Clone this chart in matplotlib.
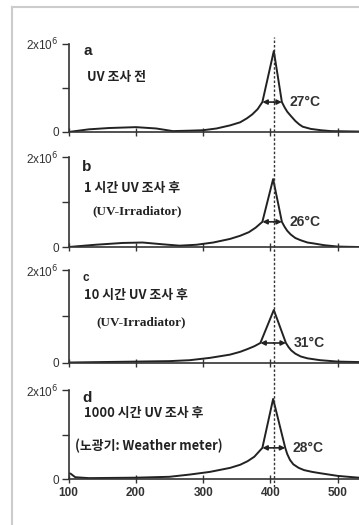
import matplotlib
matplotlib.use("Agg")
import matplotlib.pyplot as plt
from matplotlib.lines import Line2D
import matplotlib.transforms as mtransforms

# 데이터 (세로축 단위: 1e6)
x_a = [100, 130, 160, 200, 230, 255, 280, 300, 320, 340, 355, 365, 373, 381, 388, 405, 417, 421, 425, 430, 437, 443, 448, 460, 475, 490, 531]
y_a = [0.0, 0.06, 0.09, 0.11, 0.08, 0.02, 0.03, 0.04, 0.08, 0.15, 0.22, 0.31, 0.40, 0.52, 0.68, 1.84, 0.68, 0.56, 0.46, 0.37, 0.25, 0.17, 0.12, 0.07, 0.04, 0.02, 0.01]

x_b = [100, 140, 180, 210, 240, 265, 290, 315, 340, 355, 368, 378, 388, 404, 417, 421, 425, 430, 437, 445, 455, 464, 480, 500, 531]
y_b = [0.0, 0.05, 0.09, 0.10, 0.06, 0.03, 0.05, 0.10, 0.18, 0.25, 0.33, 0.43, 0.56, 1.51, 0.56, 0.45, 0.36, 0.28, 0.20, 0.15, 0.10, 0.08, 0.04, 0.01, 0.0]

x_c = [100, 150, 200, 250, 280, 310, 340, 355, 366, 376, 385, 405, 423, 427, 431, 437, 445, 455, 474, 500, 531]
y_c = [0.01, 0.02, 0.03, 0.04, 0.06, 0.11, 0.18, 0.24, 0.30, 0.36, 0.43, 1.14, 0.43, 0.34, 0.27, 0.20, 0.14, 0.10, 0.06, 0.03, 0.02]

x_d = [100, 103, 110, 130, 200, 250, 280, 310, 340, 355, 366, 376, 388, 404, 422, 425, 429, 434, 442, 450, 462, 474, 500, 523, 531]
y_d = [0.13, 0.12, 0.04, 0.02, 0.03, 0.05, 0.10, 0.16, 0.25, 0.32, 0.40, 0.50, 0.70, 1.80, 0.70, 0.56, 0.43, 0.33, 0.25, 0.20, 0.16, 0.13, 0.07, 0.04, 0.03]

letters = ["a", "b", "c", "d"]
titles = ["UV 조사 전", "1 시간 UV 조사 후", "10 시간 UV 조사 후", "1000 시간 UV 조사 후"]
subtitles = ["", "(UV-Irradiator)", "(UV-Irradiator)", "(노광기: Weather meter)"]
widths = ["27°C", "26°C", "31°C", "28°C"]
fwhm_left = [388, 388, 385, 388]
fwhm_right = [417, 417, 423, 422]
fwhm_level = [0.68, 0.56, 0.43, 0.70]
xs = [x_a, x_b, x_c, x_d]
ys = [y_a, y_b, y_c, y_d]

# 패널 위치 (figure 좌표: bottom, height)
panels = [(0.7486, 0.1676), (0.5295, 0.1714), (0.3086, 0.1771), (0.0876, 0.1695)]
left = 0.191
xmax = 531.6
peak_line = 405

fig = plt.figure(figsize=(3.59, 5.25), dpi=100)
fig.patch.set_facecolor("white")

kfont = ["Noto Sans CJK KR", "DejaVu Sans"]
letter_pos = [(122, 1.84, 11), (120, 1.78, 11), (121, 1.82, 8.5), (120, 1.82, 11)]
title_pos = [(127, 1.25), (123, 1.31), (123, 1.46), (123, 1.48)]
sub_pos = [(0, 0), (135, 0.80), (142, 0.88), (110, 0.74)]

axes = []
for i in range(4):
    b, h = panels[i]
    ax = fig.add_axes([left, b, 1 - left, h])
    axes.append(ax)
    ax.plot(xs[i], [v * 1e6 for v in ys[i]], color="#222222", lw=1.4)
    ax.set_xlim(100, xmax)
    ax.set_ylim(0, 2e6)
    for s in ["top", "right"]:
        ax.spines[s].set_visible(False)
    ax.spines["left"].set_color("#333333")
    ax.spines["bottom"].set_color("#333333")
    ax.spines["left"].set_linewidth(1.2)
    ax.spines["bottom"].set_linewidth(1.2)
    ax.set_facecolor("none")

    ax.set_xticks([100, 200, 300, 400, 500])
    ax.tick_params(axis="x", direction="inout", length=6, width=1, color="#333333")
    if i < 3:
        ax.set_xticklabels([])
    else:
        ax.set_xticklabels(["100", "200", "300", "400", "500"], fontsize=8.5,
                           fontweight="bold", family="Liberation Sans", color="#333333")
        ax.tick_params(axis="x", pad=3)
    ax.set_yticks([0, 1e6, 2e6])
    ax.set_yticklabels(["0", "", r"2x10$^6$"], family="Liberation Sans", color="#333333")
    ax.get_yticklabels()[0].set_fontsize(8.5)
    ax.get_yticklabels()[2].set_fontsize(8.5)
    ax.tick_params(axis="y", direction="out", length=5, width=1, color="#333333", pad=2)

    lx, ly, lfs = letter_pos[i]
    ax.text(lx, ly * 1e6, letters[i], fontsize=lfs, fontweight="bold",
            family="Liberation Sans", va="center", ha="left", color="#222222")
    tx, ty = title_pos[i]
    ax.text(tx, ty * 1e6, titles[i], fontsize=9.3, fontweight="bold",
            family=kfont, va="center", ha="left", color="#222222")
    if subtitles[i]:
        sx, sy = sub_pos[i]
        if i == 3:
            ax.text(sx, sy * 1e6, subtitles[i], fontsize=9.3, fontweight="bold",
                    family=kfont, va="center", ha="left", color="#222222")
        else:
            ax.text(sx, sy * 1e6, subtitles[i], fontsize=9.5, fontweight="bold",
                    family="Liberation Serif", va="center", ha="left", color="#222222")

    # 반치폭 화살표
    for xe in (fwhm_left[i], fwhm_right[i]):
        ax.annotate("", xy=(xe, fwhm_level[i] * 1e6),
                    xytext=(peak_line, fwhm_level[i] * 1e6),
                    arrowprops=dict(arrowstyle="-|>", color="#222222", lw=1.2,
                                    mutation_scale=7, shrinkA=0, shrinkB=0))
    ax.text(fwhm_right[i] + 11, fwhm_level[i] * 1e6, widths[i], fontsize=10,
            fontweight="bold", family="Liberation Sans", va="center", ha="left",
            color="#333333")

# 전체 패널을 관통하는 점선
trans = mtransforms.blended_transform_factory(axes[0].transData, fig.transFigure)
fig.add_artist(Line2D([peak_line, peak_line], [0.072, 0.93], transform=trans,
                      color="#333333", lw=1.0, linestyle=(0, (1.8, 1.4))))

# 바깥 회색 테두리
fig.add_artist(Line2D([12 / 359, 12 / 359], [0.0, 1 - 7 / 525], transform=fig.transFigure,
                      color="#cccccc", lw=1.5))
fig.add_artist(Line2D([12 / 359, 1.0], [1 - 7 / 525, 1 - 7 / 525], transform=fig.transFigure,
                      color="#cccccc", lw=1.5))

fig.savefig("out.png", dpi=100)
